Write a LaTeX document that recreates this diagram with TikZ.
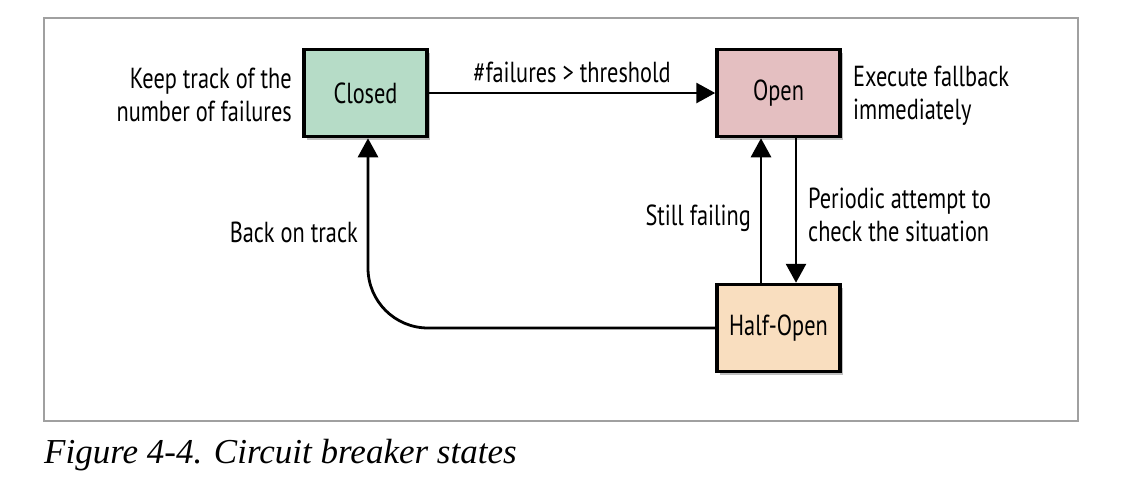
\documentclass[tikz,border=0pt]{standalone}
\usepackage{fontspec}
\usetikzlibrary{arrows.meta,shadows}
\newfontfamily\condfont[FakeStretch=0.77]{PT Sans}
\newfontfamily\capfont{Liberation Serif}
\definecolor{closedfill}{HTML}{B6DCC7}
\definecolor{openfill}{HTML}{E4BFC1}
\definecolor{halffill}{HTML}{F9DEBF}
\definecolor{framegray}{HTML}{A0A0A0}
\tikzset{
  statebox/.style={draw=black, line width=3.5pt, minimum width=123pt, minimum height=87pt,
    font=\condfont\fontsize{29}{33}\selectfont, inner sep=0pt,
    drop shadow={shadow xshift=3pt, shadow yshift=-3pt, opacity=0.25, fill=black}},
  lbl/.style={font=\condfont\fontsize{29}{33}\selectfont, inner sep=0pt},
  arr/.style={line width=2.8pt, -{Triangle[length=19pt,width=20pt]}}
}
\begin{document}
\begin{tikzpicture}[x=1pt,y=-1pt]
\useasboundingbox (0,0) rectangle (1124,490);
\fill[white] (0,0) rectangle (1124,490);
\draw[framegray, line width=1.3pt] (44,18) rectangle (1078,421);
\node[statebox, fill=closedfill] (closed) at (365.5,93) {Closed};
\node[statebox, fill=openfill] (open) at (778.5,93) {Open};
\node[statebox, fill=halffill] (hopen) at (778.5,328) {Half-Open};
\draw[arr] (closed.east) -- (open.west) node[lbl, midway, above=9pt] {\#failures > threshold};
\draw[arr] ([xshift=17.5pt]open.south) -- ([xshift=17.5pt]hopen.north);
\draw[arr] ([xshift=-17.5pt]hopen.north) -- ([xshift=-17.5pt]open.south);
\draw[arr, rounded corners=60pt] (hopen.west) -| ([xshift=2.5pt]closed.south);
\node[lbl, align=right, anchor=east] (keep) at (292,95) {Keep track of the\\number of failures};
\node[lbl, align=left, anchor=west] (exec) at (853,96) {Execute fallback\\immediately};
\node[lbl, anchor=east] (still) at (751,218) {Still failing};
\node[lbl, align=left, anchor=west] (period) at (808,215) {Periodic attempt to\\check the situation};
\node[lbl, anchor=east] (back) at (358,232) {Back on track};
\node[font=\capfont\itshape\fontsize{35}{40}\selectfont, anchor=west, inner sep=0pt] (cap) at (44,455) {Figure 4-4. Circuit breaker states};
\end{tikzpicture}
\end{document}
